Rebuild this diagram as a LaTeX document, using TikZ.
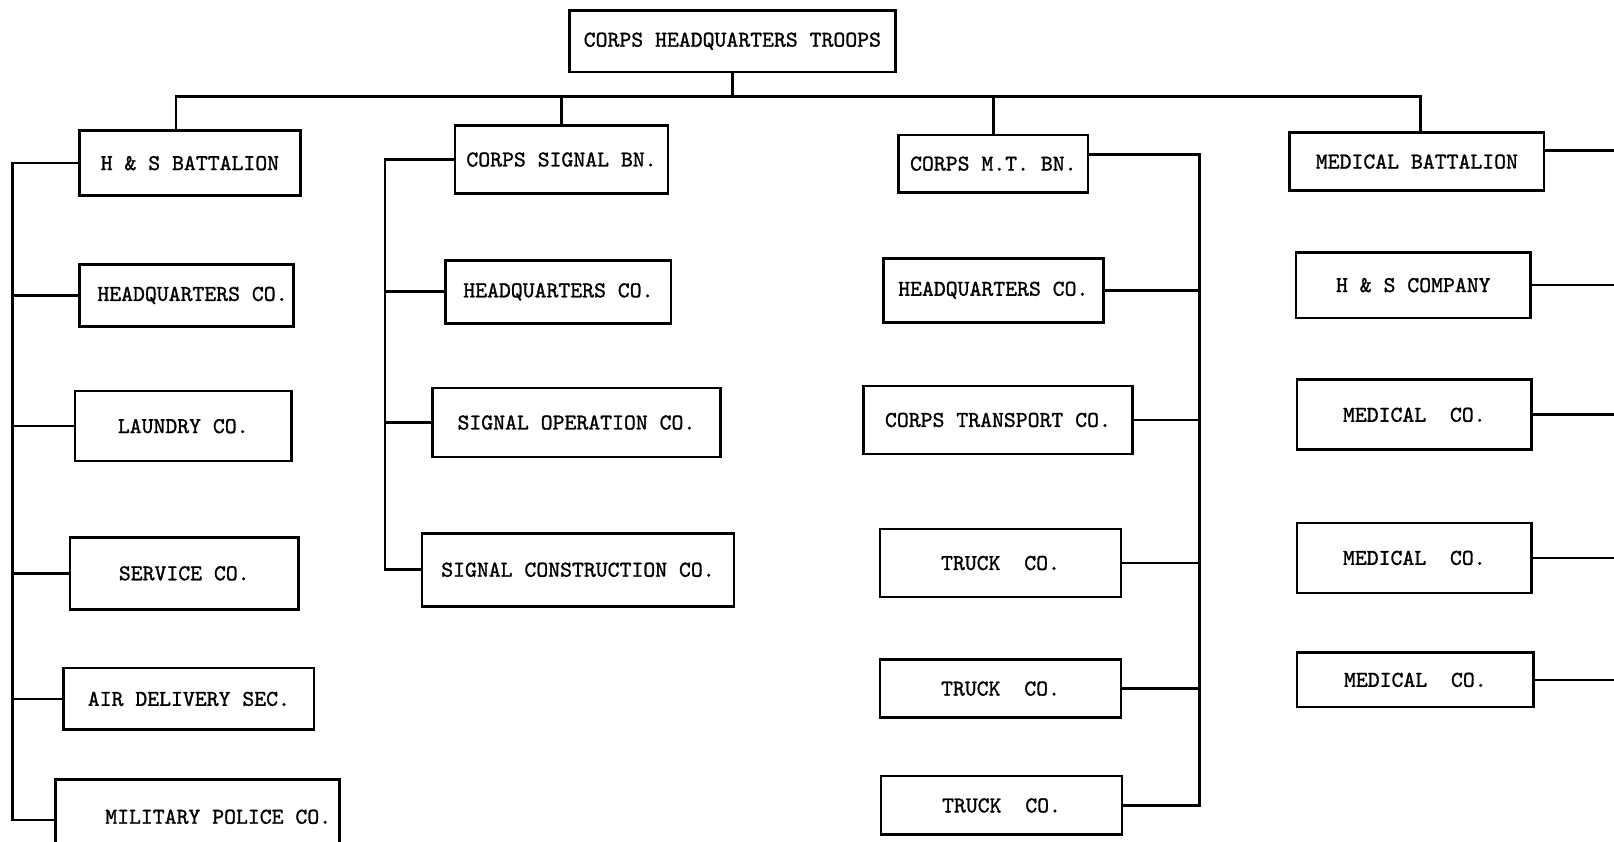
\documentclass[tikz,border=0pt]{standalone}
\usepackage{fontspec}
\newfontfamily\typer[FakeBold=1.2]{lmmono10-regular.otf}

\begin{document}
\begin{tikzpicture}[x=1pt, y=-1pt,
        unit/.style={draw, line width=2.6pt, inner sep=0pt, font=\typer\fontsize{22}{25}\selectfont},
        boxsz/.style 2 args={minimum width=#1pt, minimum height=#2pt},
        link/.style={line width=2.6pt}
      ]
        \useasboundingbox (0,0) rectangle (1568,818);
        % top
        \node[unit, boxsz={317}{60}] (corps) at (711.5,40) {CORPS HEADQUARTERS TROOPS};
        % battalions
        \node[unit, boxsz={215}{63}] (hsbn)  at (184.5,158.5) {H \& S BATTALION};
        \node[unit, boxsz={207}{66}] (sigbn) at (545.5,155)   {CORPS SIGNAL BN.};
        \node[unit, boxsz={184}{56}] (mtbn)  at (965,159)     {CORPS M.T. BN.};
        \node[unit, boxsz={247}{56}] (medbn) at (1376.5,157)  {MEDICAL BATTALION};
        % H & S battalion
        \node[unit, boxsz={208}{60}] (hqa)     at (181,287)     {\hspace*{12pt}HEADQUARTERS CO.};
        \node[unit, boxsz={210}{68}] (laundry) at (178,414)     {LAUNDRY CO.};
        \node[unit, boxsz={222}{70}] (service) at (179,557)     {SERVICE CO.};
        \node[unit, boxsz={243}{60}] (airdel)  at (183.5,679)   {AIR DELIVERY SEC.};
        \node[unit, boxsz={276}{73}] (mpco)    at (192,793.5)   {\hspace*{40pt}MILITARY POLICE CO.};
        % signal battalion
        \node[unit, boxsz={219}{61}] (hqb)    at (542.5,283.5) {HEADQUARTERS CO.};
        \node[unit, boxsz={280}{67}] (sigop)  at (560,410.5)   {SIGNAL OPERATION CO.};
        \node[unit, boxsz={303}{71}] (sigcon) at (561.5,553.5) {SIGNAL CONSTRUCTION CO.};
        % M.T. battalion
        \node[unit, boxsz={214}{62}] (hqc)    at (965,282)   {HEADQUARTERS CO.};
        \node[unit, boxsz={261}{66}] (transp) at (969.5,408) {CORPS TRANSPORT CO.};
        \node[unit, boxsz={234}{66}] (trka)   at (972,547)   {TRUCK\ \ CO.};
        \node[unit, boxsz={234}{56}] (trkb)   at (972,669)   {TRUCK\ \ CO.};
        \node[unit, boxsz={234}{57}] (trkc)   at (973,782.5) {TRUCK\ \ CO.};
        % medical battalion
        \node[unit, boxsz={228}{64}] (hsco) at (1373,277)   {H \& S COMPANY};
        \node[unit, boxsz={228}{68}] (meda) at (1374,403)   {MEDICAL\ \ CO.};
        \node[unit, boxsz={228}{68}] (medb) at (1374,542)   {MEDICAL\ \ CO.};
        \node[unit, boxsz={230}{53}] (medc) at (1375,660.5) {MEDICAL\ \ CO.};

        \coordinate (busl) at (171,94);
        \coordinate (busr) at (1380,94);
        \coordinate (spa) at (12,0);
        \coordinate (spb) at (374,0);
        \coordinate (spc) at (1165,0);
        \coordinate (edge) at (1568,0);

        % bus
        \draw[link] (corps.south) -- (corps.south |- busl);
        \draw[link] (hsbn.north -| busl) -- (busl) -- (busr) -- (medbn.north -| busr);
        \draw[link] (sigbn.north) -- (sigbn.north |- busl);
        \draw[link] (mtbn.north) -- (mtbn.north |- busl);
        % spines
        \draw[link] (hsbn.west) -- (hsbn.west -| spa) -- ([yshift=-3pt]mpco.west -| spa) -- ([yshift=-3pt]mpco.west);
        \foreach \n in {hqa, laundry, service, airdel} { \draw[link] (\n.west) -- (\n.west -| spa); }
        \draw[link] (sigbn.west) -- (sigbn.west -| spb) -- (sigcon.west -| spb) -- (sigcon.west);
        \foreach \n in {hqb, sigop} { \draw[link] (\n.west) -- (\n.west -| spb); }
        \draw[link] ([yshift=9pt]mtbn.east) -- ([yshift=9pt]mtbn.east -| spc) -- (trkc.east -| spc) -- (trkc.east);
        \foreach \n in {hqc, transp, trka, trkb} { \draw[link] (\n.east) -- (\n.east -| spc); }
        \draw[link] ([yshift=11pt]medbn.east) -- ([yshift=11pt]medbn.east -| edge);
        \foreach \n in {hsco, meda, medb, medc} { \draw[link] (\n.east) -- (\n.east -| edge); }
      \end{tikzpicture}
\end{document}
